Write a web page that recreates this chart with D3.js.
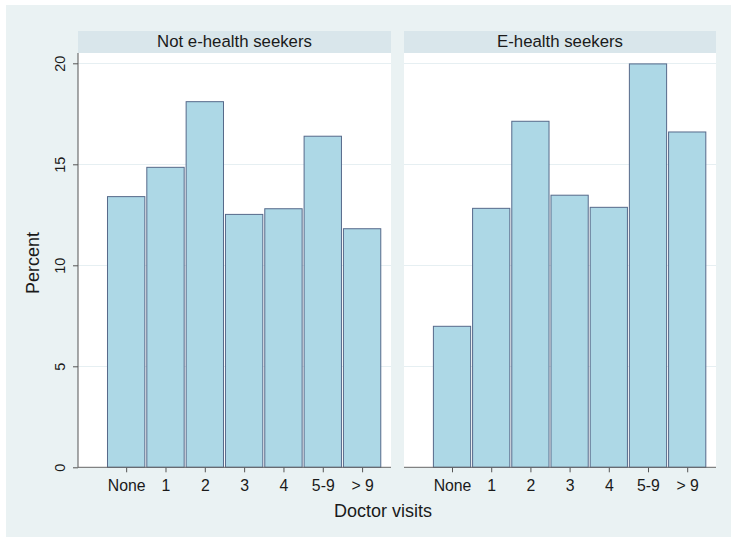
<!DOCTYPE html>
<html>
<head>
<meta charset="utf-8">
<script src="https://cdn.jsdelivr.net/npm/d3@7"></script>
<style>
  body { margin: 0; background: #fff; }
  text { font-family: "Liberation Sans", Arial, sans-serif; fill: #1a1a1a; }
</style>
</head>
<body>
<script>
const width = 737;
const height = 537;

// data (percent)
const categories = ["None", "1", "2", "3", "4", "5-9", "> 9"];
const notSeekers = [13.4, 14.85, 18.1, 12.52, 12.8, 16.39, 11.81];
const seekers = [6.98, 12.82, 17.13, 13.47, 12.87, 19.97, 16.6];
const panelTitles = ["Not e-health seekers", "E-health seekers"];
const yTicks = [0, 5, 10, 15, 20];

const svg = d3.select("body")
  .append("svg")
  .attr("width", width)
  .attr("height", height);

// outer graph region
svg.append("rect")
  .attr("x", 6).attr("y", 5)
  .attr("width", 725).attr("height", 532)
  .attr("fill", "#eaf2f3");

const plotTop = 53, plotBottom = 467.3;
const y = d3.scaleLinear().domain([0, 20]).range([plotBottom, 63.3]);

const panels = [
  {title: panelTitles[0], values: notSeekers, x0: 78, x1: 391, yaxis: true},
  {title: panelTitles[1], values: seekers, x0: 404, x1: 716, yaxis: false}
];

panels.forEach(p => {
  const x = d3.scaleLinear().domain([-1.225, 6.735]).range([p.x0, p.x1]);
  const g = svg.append("g");

  // header strip
  g.append("rect")
    .attr("x", p.x0).attr("y", 31)
    .attr("width", p.x1 - p.x0).attr("height", plotTop - 31)
    .attr("fill", "#d9e6eb");
  g.append("text")
    .attr("x", (p.x0 + p.x1) / 2).attr("y", 47)
    .attr("text-anchor", "middle")
    .style("font-size", "16.8px")
    .text(p.title);

  // plot area
  g.append("rect")
    .attr("x", p.x0).attr("y", plotTop)
    .attr("width", p.x1 - p.x0).attr("height", plotBottom - plotTop)
    .attr("fill", "#fff");

  // grid
  g.selectAll(".grid")
    .data(yTicks.filter(d => d > 0))
    .enter().append("line")
    .attr("x1", p.x0).attr("x2", p.x1)
    .attr("y1", d => Math.round(y(d)) + 0.5)
    .attr("y2", d => Math.round(y(d)) + 0.5)
    .attr("stroke", "#e6eff2")
    .attr("stroke-width", 1.2);

  // bars
  const bw = 0.95;
  g.selectAll(".bar")
    .data(p.values)
    .enter().append("rect")
    .attr("x", (d, i) => x(i - bw / 2))
    .attr("y", d => y(d))
    .attr("width", x(bw) - x(0))
    .attr("height", d => y(0) - y(d))
    .attr("fill", "#add8e6")
    .attr("stroke", "#56698a")
    .attr("stroke-width", 1);

  // x axis
  const xAxis = d3.axisBottom(x)
    .tickValues(d3.range(categories.length))
    .tickFormat(i => categories[i])
    .tickSize(5)
    .tickPadding(7);
  const ax = g.append("g")
    .attr("transform", `translate(0,${plotBottom})`)
    .call(xAxis);
  ax.select(".domain").remove();
  ax.append("line")
    .attr("x1", p.x0).attr("x2", p.x1)
    .attr("stroke", "#666");
  ax.selectAll(".tick line").attr("stroke", "#555");
  ax.selectAll("text")
    .style("font-size", "15.8px")
    .attr("fill", "#1a1a1a");

  if (p.yaxis) {
    const yAxis = d3.axisLeft(y)
      .tickValues(yTicks)
      .tickSize(5)
      .tickPadding(0);
    const ay = g.append("g")
      .attr("transform", `translate(${p.x0},0)`)
      .call(yAxis);
    ay.select(".domain").remove();
    ay.append("line")
      .attr("y1", plotTop).attr("y2", plotBottom)
      .attr("stroke", "#555");
    ay.selectAll(".tick line").attr("stroke", "#555");
    ay.selectAll("text")
      .attr("x", 0).attr("dy", 0)
      .attr("transform", "translate(-13,0) rotate(-90)")
      .attr("text-anchor", "middle")
      .style("font-size", "14.5px")
      .attr("fill", "#1a1a1a");
  }
});

// axis titles
svg.append("text")
  .attr("x", 383).attr("y", 517)
  .attr("text-anchor", "middle")
  .style("font-size", "18px")
  .text("Doctor visits");

svg.append("text")
  .attr("transform", "translate(39,263) rotate(-90)")
  .attr("text-anchor", "middle")
  .style("font-size", "18px")
  .text("Percent");
</script>
</body>
</html>
